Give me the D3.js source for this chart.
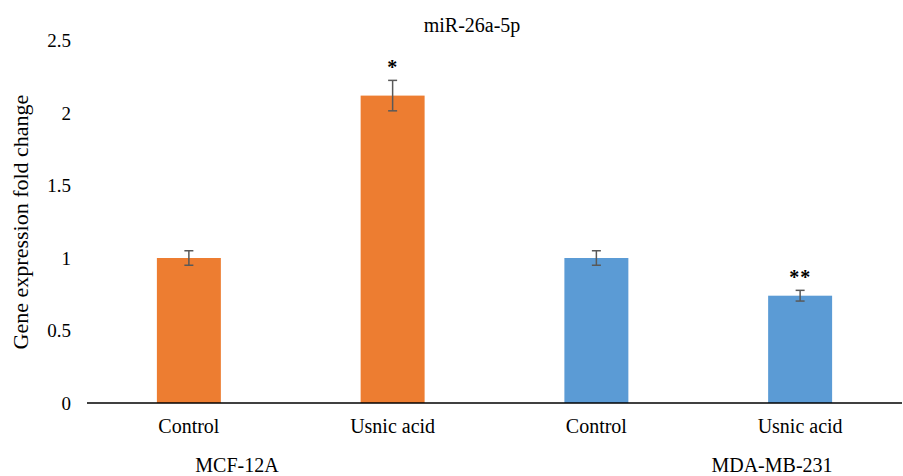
<!DOCTYPE html>
<html>
<head>
<meta charset="utf-8">
<script src="https://cdn.jsdelivr.net/npm/d3@7/dist/d3.min.js"></script>
<style>
  body { margin: 0; background: #fff; }
  svg { display: block; font-family: "Liberation Serif", "Times New Roman", serif; }
</style>
</head>
<body>
<svg id="chart" width="903" height="476"></svg>
<script>
const categories = ["Control", "Usnic acid", "Control", "Usnic acid"];
const groups = ["MCF-12A", "MCF-12A", "MDA-MB-231", "MDA-MB-231"];
const values = [1.0, 2.12, 1.0, 0.74];
const errors = [0.05, 0.105, 0.05, 0.037];
const significance = ["", "*", "", "**"];
const groupLabels = ["MCF-12A", "MDA-MB-231"];
const yTicks = [0, 0.5, 1, 1.5, 2, 2.5];
const title = "miR-26a-5p";
const yTitle = "Gene expression fold change";

const colors = { "MCF-12A": "#ED7D31", "MDA-MB-231": "#5B9BD5" };

const svg = d3.select("#chart");
const x = d3.scaleBand().domain(d3.range(categories.length)).range([87, 902]).paddingInner(0.686).paddingOuter(0.343);
const y = d3.scaleLinear().domain([0, 2.5]).range([403, 40.5]);

// bars
svg.selectAll("rect.bar").data(values).join("rect")
  .attr("x", (d, i) => x(i)).attr("width", x.bandwidth())
  .attr("y", d => y(d)).attr("height", d => y(0) - y(d))
  .attr("fill", (d, i) => colors[groups[i]]);

// error bars
const eg = svg.append("g").attr("stroke", "#595959").attr("stroke-width", 1.5);
values.forEach((v, i) => {
  const cx = x(i) + x.bandwidth() / 2;
  eg.append("line").attr("x1", cx).attr("x2", cx).attr("y1", y(v + errors[i])).attr("y2", y(v - errors[i]));
  eg.append("line").attr("x1", cx - 4.5).attr("x2", cx + 4.5).attr("y1", y(v + errors[i])).attr("y2", y(v + errors[i]));
  eg.append("line").attr("x1", cx - 4.5).attr("x2", cx + 4.5).attr("y1", y(v - errors[i])).attr("y2", y(v - errors[i]));
});

// significance
svg.selectAll("text.sig").data(significance).join("text")
  .attr("x", (d, i) => x(i) + x.bandwidth() / 2)
  .attr("y", (d, i) => y(values[i] + errors[i]) - 6)
  .attr("text-anchor", "middle").attr("font-size", 20).attr("font-weight", "bold")
  .attr("letter-spacing", 1)
  .text(d => d);

// baseline
svg.append("line").attr("x1", 87).attr("x2", 902).attr("y1", y(0)).attr("y2", y(0))
  .attr("stroke", "#000").attr("stroke-width", 1.5);

// y axis tick labels
const yAxis = d3.axisLeft(y).tickValues(yTicks).tickSize(0).tickPadding(0).tickFormat(d3.format("~g"));
const ya = svg.append("g").attr("transform", "translate(71,0)").call(yAxis);
ya.select(".domain").remove();
ya.selectAll("text").attr("font-size", 19).attr("font-family", "Liberation Serif").attr("fill", "#000");

// category labels
svg.selectAll("text.cat").data(categories).join("text")
  .attr("x", (d, i) => x(i) + x.bandwidth() / 2).attr("y", 433)
  .attr("text-anchor", "middle").attr("font-size", 20).text(d => d);

// group labels
const groupX = [237, 772];
svg.selectAll("text.grp").data(groupLabels).join("text")
  .attr("x", (d, i) => groupX[i]).attr("y", 472)
  .attr("text-anchor", "middle").attr("font-size", 20).text(d => d);

// title
svg.append("text").attr("x", 472).attr("y", 32).attr("text-anchor", "middle")
  .attr("font-size", 20).text(title);

// y title
svg.append("text").attr("transform", "translate(28,222) rotate(-90)")
  .attr("text-anchor", "middle").attr("font-size", 22).text(yTitle);
</script>
</body>
</html>
